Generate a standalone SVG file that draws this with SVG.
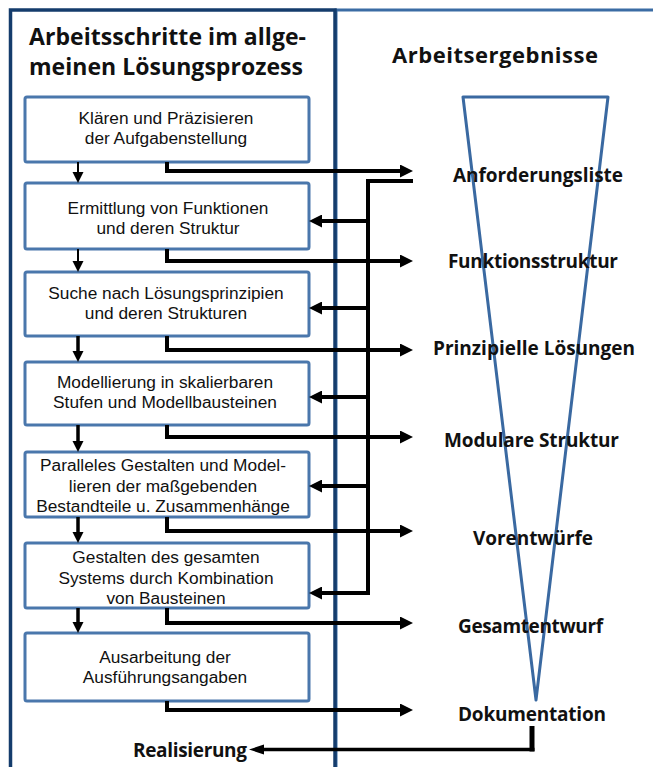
<svg xmlns="http://www.w3.org/2000/svg" width="653" height="767" viewBox="0 0 653 767">
  <defs>
    <style>
      .frame-l { fill: none; stroke: #143C6C; stroke-width: 3.5; }
      .frame-r { fill: none; stroke: #3B6CA4; stroke-width: 3; }
      .box { fill: #FFFFFF; stroke: #4A77AC; stroke-width: 3; }
      .funnel { fill: none; stroke: #3A69A1; stroke-width: 3; stroke-linejoin: round; }
      .step { font-family: "Liberation Sans", Arial, sans-serif; font-size: 17.3px; fill: #111; text-anchor: middle; }
      .head { font-family: "Open Sans", "Liberation Sans", sans-serif; font-weight: 700; font-size: 23px; fill: #111; }
      .result { font-family: "Open Sans", "Liberation Sans", sans-serif; font-weight: 700; font-size: 19px; fill: #111; }
      .wire { fill: none; stroke: #000; stroke-width: 4; stroke-linejoin: miter; }
      .down-thin { fill: none; stroke: #000; stroke-width: 2; }
      .down-thick { fill: none; stroke: #000; stroke-width: 3.5; }
    </style>
    <marker id="arrow" markerUnits="userSpaceOnUse" markerWidth="14" markerHeight="13" refX="1" refY="6.5" orient="auto">
      <path d="M0,0 L13,6.5 L0,13 Z" fill="#000"/>
    </marker>
    <marker id="arrow-down" markerUnits="userSpaceOnUse" markerWidth="12" markerHeight="12" refX="1" refY="5.5" orient="auto">
      <path d="M0,0 L11,5.5 L0,11 Z" fill="#000"/>
    </marker>
    <marker id="arrow-small" markerUnits="userSpaceOnUse" markerWidth="16" markerHeight="11" refX="1" refY="5" orient="auto">
      <path d="M0,0 L15,5 L0,10 Z" fill="#000"/>
    </marker>
  </defs>

  <rect width="653" height="767" fill="#FFFFFF"/>

  <!-- column frames -->
  <g id="frame-results">
    <rect class="frame-r" x="336" y="10" width="340" height="780"/>
  </g>
  <g id="frame-steps">
    <rect class="frame-l" x="10.5" y="10" width="324.5" height="780"/>
  </g>

  <!-- column headings -->
  <g id="heading-steps">
    <text class="head" x="29" y="45" textLength="277">Arbeitsschritte im allge-</text>
    <text class="head" x="29" y="75" textLength="274">meinen Lösungsprozess</text>
  </g>
  <g id="heading-results">
    <text class="head" x="392" y="63" textLength="206" style="font-size:22px">Arbeitsergebnisse</text>
  </g>

  <!-- narrowing funnel -->
  <g id="funnel">
    <polygon class="funnel" points="463,97 608,97 536,700"/>
  </g>

  <!-- process steps -->
  <g id="step-1">
    <rect class="box" x="25" y="97" width="284" height="65" rx="2"/>
    <text class="step" x="166" y="124">Klären und Präzisieren</text>
    <text class="step" x="166" y="144">der Aufgabenstellung</text>
  </g>
  <g id="step-2">
    <rect class="box" x="25" y="183" width="284" height="66" rx="2"/>
    <text class="step" x="168" y="214">Ermittlung von Funktionen</text>
    <text class="step" x="168" y="234">und deren Struktur</text>
  </g>
  <g id="step-3">
    <rect class="box" x="25" y="272" width="284" height="64" rx="2"/>
    <text class="step" x="166" y="299">Suche nach Lösungsprinzipien</text>
    <text class="step" x="166" y="319">und deren Strukturen</text>
  </g>
  <g id="step-4">
    <rect class="box" x="25" y="362" width="284" height="63" rx="2"/>
    <text class="step" x="165" y="388">Modellierung in skalierbaren</text>
    <text class="step" x="165" y="408">Stufen und Modellbausteinen</text>
  </g>
  <g id="step-5">
    <rect class="box" x="25" y="452" width="284" height="65" rx="2"/>
    <text class="step" x="163" y="471">Paralleles Gestalten und Model-</text>
    <text class="step" x="163" y="492">lieren der maßgebenden</text>
    <text class="step" x="163" y="512">Bestandteile u. Zusammenhänge</text>
  </g>
  <g id="step-6">
    <rect class="box" x="25" y="543" width="284" height="65" rx="2"/>
    <text class="step" x="166" y="563">Gestalten des gesamten</text>
    <text class="step" x="166" y="584">Systems durch Kombination</text>
    <text class="step" x="166" y="604">von Bausteinen</text>
  </g>
  <g id="step-7">
    <rect class="box" x="25" y="633" width="284" height="68" rx="2"/>
    <text class="step" x="165" y="663">Ausarbeitung der</text>
    <text class="step" x="165" y="683">Ausführungsangaben</text>
  </g>

  <!-- work results -->
  <g id="result-1"><text class="result" x="538" y="182" text-anchor="middle" textLength="170">Anforderungsliste</text></g>
  <g id="result-2"><text class="result" x="533" y="268" text-anchor="middle" textLength="170">Funktionsstruktur</text></g>
  <g id="result-3"><text class="result" x="534" y="355" text-anchor="middle" textLength="202">Prinzipielle Lösungen</text></g>
  <g id="result-4"><text class="result" x="531.5" y="447" text-anchor="middle" textLength="175">Modulare Struktur</text></g>
  <g id="result-5"><text class="result" x="533" y="545" text-anchor="middle" textLength="120">Vorentwürfe</text></g>
  <g id="result-6"><text class="result" x="530.5" y="633" text-anchor="middle" textLength="145">Gesamtentwurf</text></g>
  <g id="result-7"><text class="result" x="532" y="721" text-anchor="middle" textLength="148">Dokumentation</text></g>
  <g id="realisation"><text class="result" x="133" y="757" textLength="114">Realisierung</text></g>

  <!-- connectors -->
  <g id="connectors">
    <!-- step to step -->
    <line class="down-thin" x1="78" y1="162" x2="78" y2="173" marker-end="url(#arrow-down)"/>
    <line class="down-thin" x1="78" y1="249" x2="78" y2="262" marker-end="url(#arrow-down)"/>
    <line class="down-thick" x1="78" y1="336" x2="78" y2="352" marker-end="url(#arrow-down)"/>
    <line class="down-thick" x1="78" y1="425" x2="78" y2="442" marker-end="url(#arrow-down)"/>
    <line class="down-thick" x1="78" y1="517" x2="78" y2="533" marker-end="url(#arrow-down)"/>
    <line class="down-thick" x1="78" y1="608" x2="78" y2="623" marker-end="url(#arrow-down)"/>

    <!-- step to result -->
    <path class="wire" d="M167,162 V171 H401" marker-end="url(#arrow)"/>
    <path class="wire" d="M167,249 V261 H401" marker-end="url(#arrow)"/>
    <path class="wire" d="M167,336 V350 H401" marker-end="url(#arrow)"/>
    <path class="wire" d="M167,425 V437 H401" marker-end="url(#arrow)"/>
    <path class="wire" d="M167,517 V531 H401" marker-end="url(#arrow)"/>
    <path class="wire" d="M167,608 V623 H401" marker-end="url(#arrow)"/>
    <path class="wire" d="M167,701 V710 H401" marker-end="url(#arrow)"/>

    <!-- feedback from the requirements list -->
    <path class="wire" d="M413,181 H368 V593 H321" marker-end="url(#arrow)"/>
    <line class="wire" x1="368" y1="221" x2="321" y2="221" marker-end="url(#arrow)"/>
    <line class="wire" x1="368" y1="308" x2="321" y2="308" marker-end="url(#arrow)"/>
    <line class="wire" x1="368" y1="397" x2="321" y2="397" marker-end="url(#arrow)"/>
    <line class="wire" x1="368" y1="486" x2="321" y2="486" marker-end="url(#arrow)"/>

    <!-- documentation to realisation -->
    <line x1="532" y1="726" x2="532" y2="751.5" stroke="#000" stroke-width="5"/>
    <path d="M534.5,749.5 H263" fill="none" stroke="#000" stroke-width="3.5" marker-end="url(#arrow-small)"/>
  </g>
</svg>
